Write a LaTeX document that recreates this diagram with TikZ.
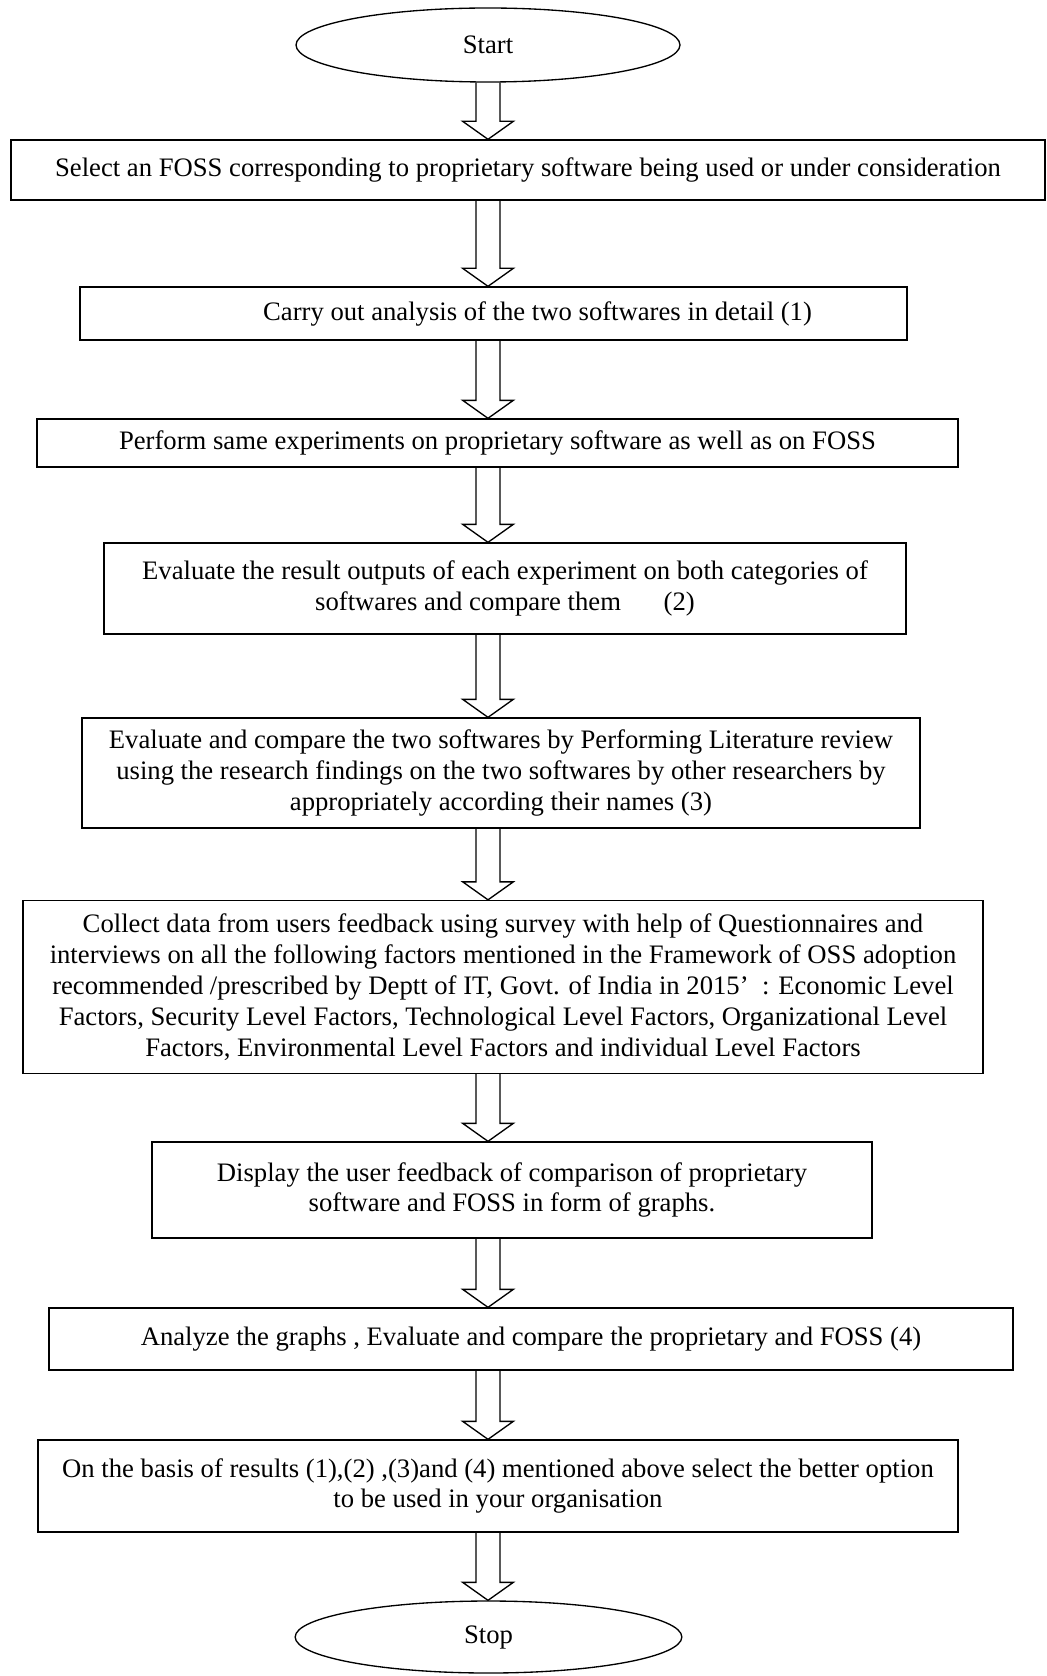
\documentclass[tikz,border=0pt]{standalone}
\usepackage{fontspec}
\setmainfont{Liberation Serif}
\usetikzlibrary{shapes.geometric, calc}

\begin{document}
\begin{tikzpicture}[x=0.75pt, y=-0.75pt,
  box/.style={rectangle, draw, line width=1pt, inner sep=0pt, align=center,
    font=\fontsize{20}{23.2}\selectfont},
  term/.style={ellipse, draw, line width=1pt, inner sep=0pt,
    font=\fontsize{20}{23.2}\selectfont},
  flow/.style={draw, line width=1pt, line join=miter, to path={
    let \p1=(\tikztostart.south -| start.center),
        \p2=(\tikztotarget.north -| start.center) in
    (\x1-9pt,\y1) -- (\x1-9pt,\y2+13.5pt) -- (\x1-19pt,\y2+13.5pt) -- (\x2,\y2)
    -- (\x1+19pt,\y2+13.5pt) -- (\x1+9pt,\y2+13.5pt) -- (\x1+9pt,\y1)}}]
  \useasboundingbox (0,0) rectangle (1046,1676);
  \node[term, minimum width=288pt, minimum height=55.5pt] (start) at (488,45) {Start};
  \node[box, minimum width=775.5pt, minimum height=45pt] (b1) at (528,170)
    {Select an FOSS corresponding to proprietary software being used or under consideration};
  \node[box, minimum width=620.25pt, minimum height=39.75pt] (b2) at (493.5,313.5)
    {\hspace*{66pt}Carry out analysis of the two softwares in detail (1)};
  \node[box, minimum width=690.75pt, minimum height=36pt] (b3) at (497.5,443)
    {Perform same experiments on proprietary software as well as on FOSS};
  \node[box, minimum width=601.5pt, minimum height=68.25pt] (b4) at (505,588.5)
    {Evaluate the result outputs of each experiment on both categories of\\
     softwares and compare them\hspace{32pt}(2)};
  \node[box, minimum width=628.5pt, minimum height=82.5pt] (b5) at (501,773)
    {Evaluate and compare the two softwares by Performing Literature review\\
     using the research findings on the two softwares by other researchers by\\
     appropriately according their names (3)};
  \node[box, minimum width=720pt, minimum height=129.75pt] (b6) at (503,987)
    {Collect data from users feedback using survey with help of Questionnaires and\\
     interviews on all the following factors mentioned in the Framework of OSS adoption\\
     recommended /prescribed by Deptt of IT, Govt. of India in 2015’\ \ : Economic Level\\
     Factors, Security Level Factors, Technological Level Factors, Organizational Level\\
     Factors, Environmental Level Factors and individual Level Factors};
  \node[box, minimum width=540pt, minimum height=72pt] (b7) at (512,1190)
    {Display the user feedback of comparison of proprietary\\
     software and FOSS in form of graphs.};
  \node[box, minimum width=723pt, minimum height=46.5pt] (b8) at (531,1339)
    {Analyze the graphs , Evaluate and compare the proprietary and FOSS (4)};
  \node[box, minimum width=690pt, minimum height=69pt] (b9) at (498,1486)
    {On the basis of results (1),(2) ,(3)and (4) mentioned above select the better option\\
     to be used in your organisation};
  \node[term, minimum width=290pt, minimum height=54pt] (stop) at (488.5,1637) {Stop};
  \draw[flow] (start) to (b1);
  \draw[flow] (b1) to (b2);
  \draw[flow] (b2) to (b3);
  \draw[flow] (b3) to (b4);
  \draw[flow] (b4) to (b5);
  \draw[flow] (b5) to (b6);
  \draw[flow] (b6) to (b7);
  \draw[flow] (b7) to (b8);
  \draw[flow] (b8) to (b9);
  \draw[flow] (b9) to (stop);
\end{tikzpicture}
\end{document}
